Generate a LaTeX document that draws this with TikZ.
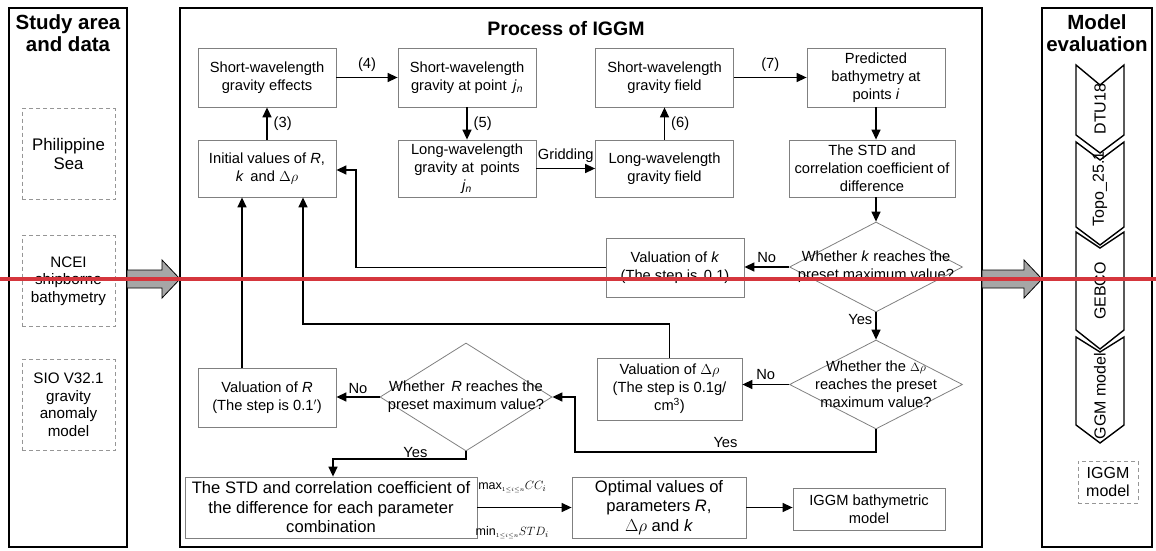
\documentclass[tikz,border=0pt]{standalone}
\usepackage{fontspec}
\setmainfont{Liberation Sans}
\usepackage{amsmath}
\usetikzlibrary{arrows.meta,shapes.geometric}

\definecolor{boxgray}{RGB}{128,128,128}
\definecolor{dashgray}{RGB}{150,150,150}
\definecolor{arrowgray}{RGB}{166,166,166}
\definecolor{markred}{RGB}{213,54,61}

\newcommand{\bodyfont}{\fontsize{14.7}{18}\selectfont}
\newcommand{\largefont}{\fontsize{16.6}{19.5}\selectfont}
\newcommand{\titlefont}{\fontsize{19.5}{22}\selectfont\bfseries}
\newcommand{\sidetitlefont}{\fontsize{20.5}{22}\selectfont\bfseries}
\newcommand{\chevfont}{\fontsize{16}{18}\selectfont}
\newcommand{\datafont}{\fontsize{15.2}{17.5}\selectfont}
\newcommand{\smallmath}{\fontsize{12.5}{12.5}\selectfont}

\begin{document}
\begin{tikzpicture}[x=1pt,y=-1pt]
\tikzstyle{every node}+=[inner sep=0pt]
\tikzstyle{panel}=[draw=black,line width=2.4pt]
\tikzstyle{proc}=[draw=boxgray,line width=0.8pt,fill=white,align=center,font=\bodyfont,minimum width=138,minimum height=59]
\tikzstyle{bigproc}=[proc,font=\largefont,minimum height=61]
\tikzstyle{decision}=[diamond,draw=boxgray,line width=0.8pt,fill=white,minimum width=173,minimum height=90]
\tikzstyle{dectext}=[align=center,font=\bodyfont]
\tikzstyle{databox}=[draw=dashgray,dash pattern=on 4pt off 3pt,line width=0.8pt,align=center,font=\datafont,minimum width=93,minimum height=91]
\tikzstyle{flow}=[draw=black,line width=1.4pt,-{Triangle[length=10pt,width=9pt]}]
\tikzstyle{note}=[font=\bodyfont]
\tikzstyle{title}=[align=center,font=\titlefont]
\tikzstyle{blockarrow}=[draw=black,line width=0.8pt,fill=arrowgray]
\tikzstyle{chevron}=[draw=black,line width=1.4pt,fill=white]
\tikzstyle{chevtext}=[rotate=90,font=\chevfont]
\tikzstyle{redrule}=[draw=markred,line width=4.5pt]

\useasboundingbox (0,0) rectangle (1156,551);

\draw[panel] (9,8) rectangle (127,547);
\draw[panel] (180,8) rectangle (982,547);
\draw[panel] (1042,8) rectangle (1152,547);
\draw[blockarrow] (127,270) -- (162,270) -- (162,260) -- (180,279) -- (162,298) -- (162,288) -- (127,288) -- cycle;
\draw[blockarrow] (982,270) -- (1024,270) -- (1024,260) -- (1042,279) -- (1024,298) -- (1024,288) -- (982,288) -- cycle;

\node[title,font=\sidetitlefont] (studytitle) at (68,33) {Study area\\and data};
\node[title] (processtitle) at (566,29) {Process of IGGM};
\node[title,font=\sidetitlefont] (evaltitle) at (1097,33) {Model\\evaluation};

\node[databox,font=\fontsize{16.8}{19}\selectfont] (phil) at (68.5,154) {Philippine\\Sea};
\node[databox] (ncei) at (68.5,281) {NCEI\\shipborne\\bathymetry};
\node[databox] (sio) at (68.5,405) {SIO V32.1\\gravity\\anomaly\\model};

\node[proc] (sweffect) at (267,77.5) {Short-wavelength\\gravity effects};
\node[proc] (swpoint) at (467,77.5) {Short-wavelength\\gravity at point \,\textit{j}\textsubscript{\textit{n}}};
\node[proc,minimum height=57] (initval) at (267,168.5) {Initial values of \textit{R},\\\textit{k} \,and $\Delta\rho$};
\node[proc,minimum height=57] (lwpoint) at (467,168.5) {Long-wavelength\\gravity at \,points\\\textit{j}\textsubscript{\textit{n}}};
\node[proc] (swfield) at (664.5,77.5) {Short-wavelength\\gravity field};
\node[proc,minimum height=57] (lwfield) at (664.5,168.5) {Long-wavelength\\gravity field};
\node[proc] (predbathy) at (876,77.5) {Predicted\\bathymetry at\\points \textit{i}};
\node[proc,minimum width=166,minimum height=57] (stddiff) at (872,168.5) {The STD and\\correlation coefficient of\\difference};

\node[decision,label={[dectext]center:{Whether \textit{k} reaches the\\preset maximum value?}}] (kcheck) at (876,267) {};
\node[proc] (valk) at (675,267.5) {Valuation of \textit{k}\\(The step is \,0.1)};
\node[decision,minimum height=89,label={[dectext]center:{Whether the {\fontsize{12}{12}\selectfont$\Delta\rho$}\\reaches the preset\\maximum value?}}] (rhocheck) at (876,384.5) {};
\node[proc,minimum width=145,minimum height=62] (valrho) at (669.5,389) {Valuation of $\Delta\rho$\\(The step is 0.1g/\\cm\textsuperscript{3})};
\node[decision,minimum width=172,minimum height=108,label={[dectext]center:{Whether \,\textit{R} reaches the\\preset maximum value?}}] (Rcheck) at (466,397) {};
\node[proc] (valR) at (267,397.5) {Valuation of \textit{R}\\(The step is 0.1$'$)};

\node[bigproc,minimum width=292] (stdall) at (331,507.5) {The STD and correlation coefficient of\\the difference for each parameter\\combination};
\node[bigproc,minimum width=174] (optval) at (659,507.5) {Optimal values of\\parameters \textit{R},\\$\Delta\rho$ and \textit{k}};
\node[proc,minimum width=152,minimum height=42] (iggmbathy) at (869,509) {IGGM bathymetric\\model};

\node[databox,minimum width=60,minimum height=42,font=\chevfont] (iggmmodel) at (1108,482) {IGGM\\model};

\draw[chevron] (1076,337) -- (1100,352) -- (1124,337) -- (1124,425) -- (1100,443) -- (1076,425) -- cycle;
\node[chevtext] (ggm) at (1100,396) {GGM model};
\draw[chevron] (1076,232) -- (1100,248) -- (1124,232) -- (1124,330) -- (1100,349) -- (1076,330) -- cycle;
\node[chevtext] (gebco) at (1100,291) {GEBCO};
\draw[chevron] (1076,142) -- (1100,160) -- (1124,142) -- (1124,227) -- (1100,245) -- (1076,227) -- cycle;
\node[chevtext] (topo) at (1100,189) {Topo\_25.1};
\draw[chevron] (1076,65) -- (1100,85) -- (1124,65) -- (1124,135) -- (1100,153) -- (1076,135) -- cycle;
\node[chevtext] (dtu) at (1100,109) {DTU18};

\coordinate (kturn) at (356,170);
\coordinate (rhoturn) at (303,324);
\coordinate (yesturn) at (575,452);
\coordinate (Rturn) at (333,459);

\draw[flow] (initval) -- node[note,right=6pt] {(3)} (sweffect);
\draw[flow] (sweffect) -- node[note,above=5pt] {(4)} (swpoint);
\draw[flow] (swpoint) -- node[note,right=6pt] {(5)} (lwpoint);
\draw[flow] (lwpoint) -- node[note,above=5pt] {Gridding} (lwfield);
\draw[flow] (lwfield) -- node[note,right=6pt] {(6)} (swfield);
\draw[flow] (swfield) -- node[note,above=5pt] {(7)} (predbathy);
\draw[flow] (predbathy) -- (predbathy |- stddiff.north);
\draw[flow] (stddiff.south -| kcheck.north) -- (kcheck.north);
\draw[flow] (kcheck.west) -- node[note,above=4pt] {No} (kcheck.west -| valk.east);
\draw[flow] (valk.west) -| (kturn) -- (initval.east |- kturn);
\draw[flow] (kcheck) -- node[note,pos=0.25,left=3pt] {Yes} (rhocheck);
\draw[flow] (rhocheck.west) -- node[note,above=4pt] {No} (rhocheck.west -| valrho.east);
\draw[flow] (valrho.north) |- (rhoturn) -- (rhoturn |- initval.south);
\draw[flow] (rhocheck.south) |- node[note,pos=0.75,above=4pt] {Yes} (yesturn) |- (Rcheck.east);
\draw[flow] (Rcheck.west) -- node[note,above=3pt] {No} (Rcheck.west -| valR.east);
\draw[flow] ([xshift=-25]valR.north) -- ([xshift=-25]initval.south);
\draw[flow] (Rcheck.south) |- node[note,pos=0.69,above=1pt] {Yes} (Rturn) -- (Rturn |- stdall.north);
\draw[flow] (stdall) -- node[pos=0.37,above=14pt,font=\smallmath] {$\mathrm{max}_{\scriptscriptstyle 1\le i\le n}CC_i$} node[pos=0.37,below=18pt,font=\smallmath] {$\mathrm{min}_{\scriptscriptstyle 1\le i\le n}STD_i$} (optval);
\draw[flow] (optval.east) -- (optval.east -| iggmbathy.west);

\draw[redrule] (0,279) -- (1156,279);
\end{tikzpicture}
\end{document}
